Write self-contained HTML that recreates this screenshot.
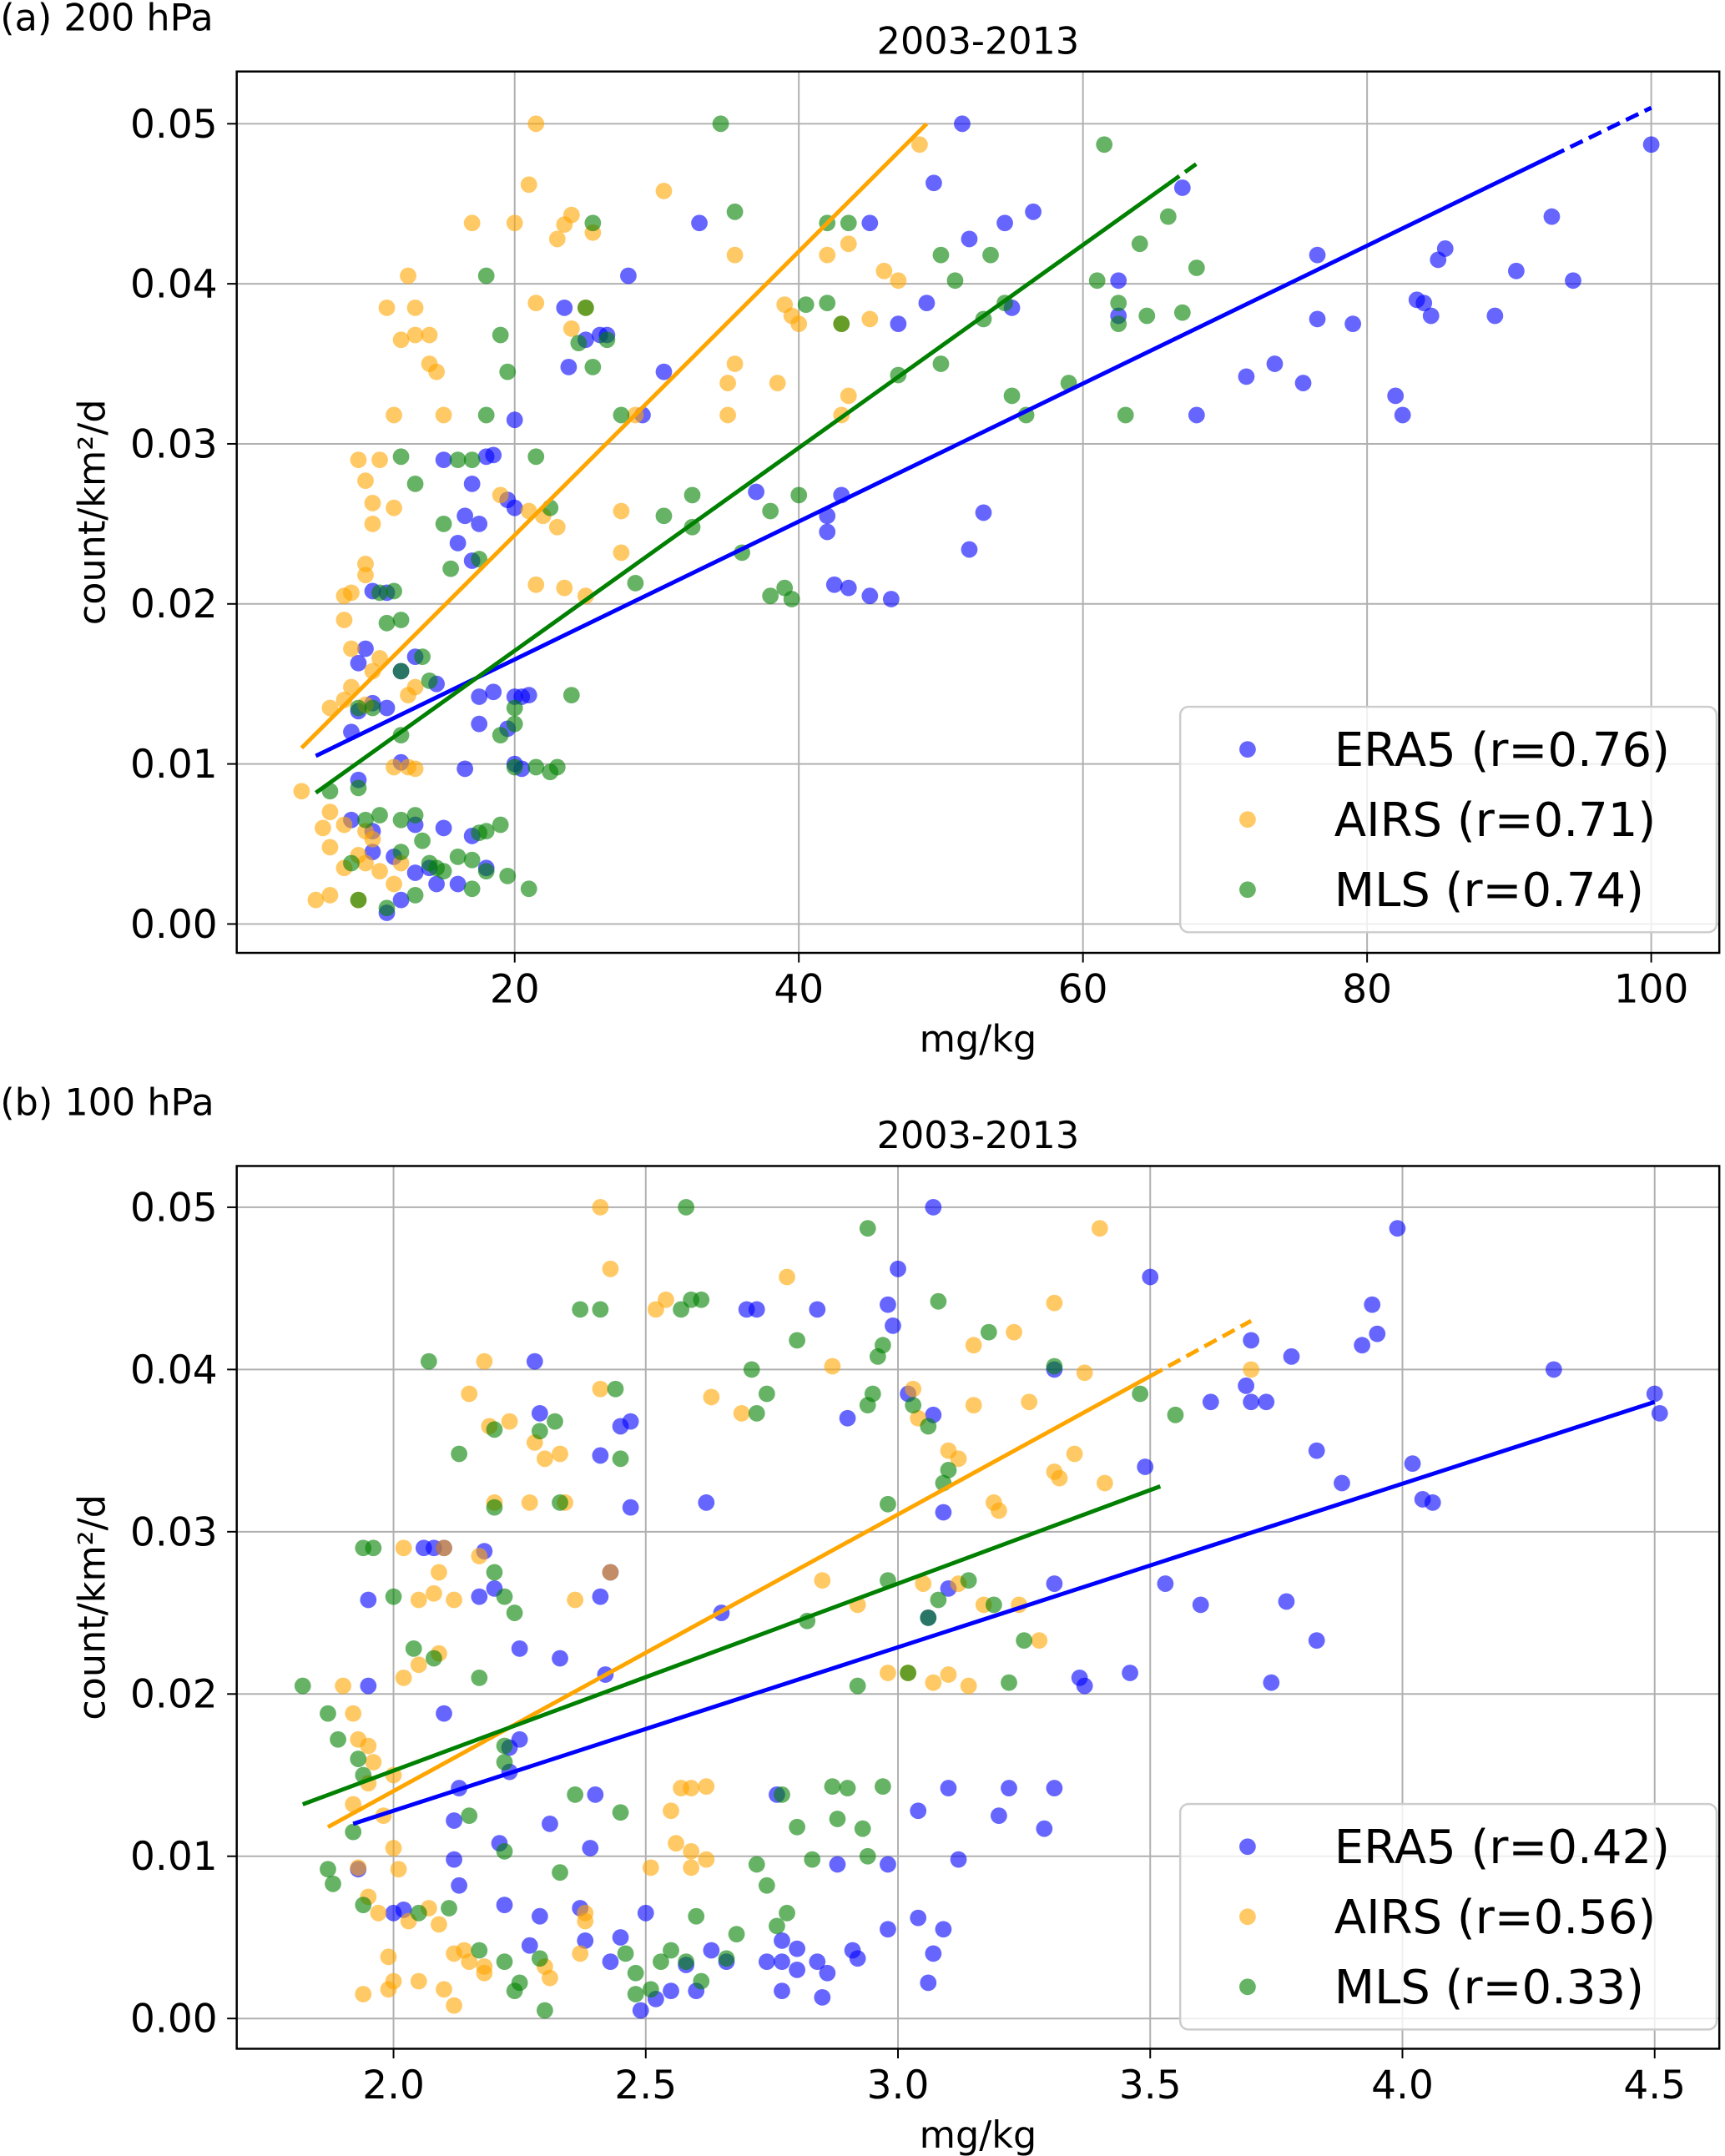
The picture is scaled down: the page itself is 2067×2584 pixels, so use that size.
<!DOCTYPE html>
<html><head><meta charset="utf-8"><style>
html,body{margin:0;padding:0;background:#fff}
svg{display:block;font-family:"DejaVu Sans","Liberation Sans",sans-serif}
</style></head><body>
<svg id="chart" width="2067" height="2584" viewBox="0 0 1254 1568" xmlns="http://www.w3.org/2000/svg"></svg>
<script>
const aXTicks=[20,40,60,80,100];
const bXTicks=[2.0,2.5,3.0,3.5,4.0,4.5];
const yTicks=[0,0.01,0.02,0.03,0.04,0.05];
const seriesNames=["ERA5","AIRS","MLS"];
const aCorr=["0.76","0.71","0.74"];
const bCorr=["0.42","0.56","0.33"];
const colors=["#0000ff","#ffa500","#008000"];
const aEra5=[[51.5,.050],[49.5,.0463],[33,.0438],[52,.0428],[54.5,.0438],[56.5,.0445],[45,.0438],[67,.046],[28,.0405],[23.5,.0385],[25,.0365],[26,.0368],[26.5,.0368],[23.8,.0348],[30.5,.0345],[29,.0318],[20,.0315],[47,.0375],[49,.0388],[55,.0385],[62.5,.0402],[62.5,.038],[76.5,.0418],[76.5,.0378],[79,.0375],[71.5,.0342],[73.5,.035],[75.5,.0338],[68,.0318],[82,.033],[82.5,.0318],[83.5,.039],[84,.0388],[84.5,.038],[85,.0415],[85.5,.0422],[89,.038],[90.5,.0408],[93,.0442],[94.5,.0402],[100,.0487],[37,.027],[43,.0268],[42,.0255],[42,.0245],[53,.0257],[52,.0234],[42.5,.0212],[43.5,.021],[45,.0205],[46.5,.0203],[15,.029],[17,.0275],[18,.0292],[18.5,.0293],[19.5,.0265],[20,.026],[17.5,.025],[16.5,.0255],[16,.0238],[17,.0227],[10,.0208],[11,.0207],[9.5,.0172],[9,.0163],[13,.0167],[12,.0158],[14.5,.015],[18.5,.0145],[17.5,.0142],[20,.0142],[20.5,.0142],[21,.0143],[17.5,.0125],[19.5,.0122],[9,.0133],[11,.0135],[10,.0138],[8.5,.012],[12,.0101],[20,.01],[20.5,.0097],[16.5,.0097],[9,.009],[8.5,.0065],[10,.0058],[11.5,.0042],[13,.0062],[14,.0035],[14.5,.0025],[12,.0015],[11,.0007],[13,.0032],[16,.0025],[18,.0035],[15,.006],[17,.0055],[10,.0045]];
const aAirs=[[21.5,.050],[48.5,.0487],[21,.0462],[30.5,.0458],[17,.0438],[20,.0438],[23.5,.0437],[24,.0443],[25.5,.0432],[23,.0428],[35.5,.0418],[42,.0418],[43.5,.0425],[46,.0408],[47,.0402],[21.5,.0388],[25,.0385],[39,.0387],[39.5,.038],[40,.0375],[43,.0375],[45,.0378],[11,.0385],[13,.0385],[12.5,.0405],[13,.0368],[14,.0368],[12,.0365],[14,.035],[14.5,.0345],[24,.0372],[35.5,.035],[35,.0338],[38.5,.0338],[43.5,.033],[43,.0318],[35,.0318],[28.5,.0318],[11.5,.0318],[15,.0318],[9,.029],[10.5,.029],[9.5,.0277],[10,.0263],[11.5,.026],[10,.025],[22,.0255],[21,.0258],[23,.0248],[27.5,.0258],[27.5,.0232],[19,.0268],[9.5,.0225],[9.5,.0218],[8,.0205],[8.5,.0207],[21.5,.0212],[23.5,.021],[25,.0205],[8,.019],[8.5,.0172],[10.5,.0166],[10,.0158],[8.5,.0148],[9.5,.0137],[8,.014],[7,.0135],[12.5,.0143],[13,.0148],[11.5,.0098],[12.5,.0098],[13,.0097],[5,.0083],[7,.007],[8,.0062],[9.5,.0058],[10,.0053],[7,.0048],[9,.0043],[9.5,.0038],[8,.0035],[6,.0015],[7,.0018],[9,.0015],[11.5,.0025],[10.5,.0033],[12,.0038],[6.5,.006]];
const aMls=[[34.5,.050],[61.5,.0487],[35.5,.0445],[42,.0438],[43.5,.0438],[66,.0442],[64,.0425],[50,.0418],[53.5,.0418],[25.5,.0438],[18,.0405],[19,.0368],[19.5,.0345],[25,.0385],[24.5,.0363],[25.5,.0348],[26.5,.0365],[27.5,.0318],[18,.0318],[40.5,.0387],[42,.0388],[43,.0375],[51,.0402],[54.5,.0388],[53,.0378],[61,.0402],[62.5,.0388],[62.5,.0375],[64.5,.038],[67,.0382],[68,.041],[50,.035],[47,.0343],[55,.033],[56,.0318],[59,.0338],[63,.0318],[16,.029],[17,.029],[21.5,.0292],[12,.0292],[13,.0275],[15,.025],[22.5,.026],[30.5,.0255],[32.5,.0268],[32.5,.0248],[28.5,.0213],[36,.0232],[38,.0258],[40,.0268],[39,.021],[38,.0205],[39.5,.0203],[17.5,.0228],[15.5,.0222],[10.5,.0207],[11.5,.0208],[11,.0188],[12,.019],[13.5,.0167],[12,.0158],[14,.0152],[20,.0135],[20,.0125],[24,.0143],[9,.0135],[10,.0135],[19,.0118],[12,.0118],[7,.0083],[9,.0085],[20,.0098],[21.5,.0098],[22.5,.0095],[23,.0098],[9.5,.0065],[10.5,.0068],[12,.0065],[13,.0068],[17.5,.0057],[18,.0058],[19,.0062],[13.5,.0052],[12,.0045],[14,.0038],[14.5,.0035],[15,.0033],[16,.0042],[17,.004],[18,.0033],[19.5,.003],[21,.0022],[17,.0022],[13,.0018],[11,.001],[9,.0015],[8.5,.0038]];
const bEra5=[[3.07,.050],[2.28,.0405],[2.98,.044],[3.0,.0462],[2.99,.0427],[2.7,.0437],[2.72,.0437],[2.84,.0437],[2.9,.037],[3.02,.0385],[3.07,.0372],[2.45,.0365],[2.47,.0368],[2.29,.0373],[3.31,.040],[3.5,.0457],[3.7,.0418],[3.69,.039],[3.7,.038],[3.73,.038],[3.62,.038],[3.78,.0408],[3.92,.0415],[3.94,.044],[3.95,.0422],[3.99,.0487],[4.3,.040],[4.5,.0385],[4.51,.0373],[4.02,.0342],[4.04,.032],[4.06,.0318],[3.88,.033],[3.83,.035],[3.49,.034],[3.09,.0312],[2.41,.0347],[2.47,.0315],[2.62,.0318],[2.43,.0275],[2.41,.026],[2.65,.025],[3.31,.0268],[3.1,.0265],[3.06,.0247],[3.53,.0268],[3.6,.0255],[3.77,.0257],[3.83,.0233],[3.74,.0207],[3.36,.021],[3.37,.0205],[3.46,.0213],[2.06,.029],[2.08,.029],[2.1,.029],[2.18,.0288],[2.2,.0265],[2.1,.0188],[1.95,.0258],[1.95,.0205],[2.17,.026],[2.25,.0228],[2.33,.0222],[2.25,.0172],[2.23,.0167],[2.23,.0152],[2.13,.0142],[2.31,.012],[2.39,.0105],[2.4,.0138],[2.42,.0212],[2.12,.0122],[2.21,.0108],[1.93,.0092],[2.12,.0098],[2.13,.0082],[2.76,.0138],[3.1,.0142],[3.22,.0142],[3.31,.0142],[3.29,.0117],[3.04,.0128],[3.2,.0125],[3.12,.0098],[2.88,.0095],[2.98,.0095],[2.98,.0055],[3.04,.0062],[3.09,.0055],[3.07,.004],[3.06,.0022],[2.91,.0042],[2.92,.0037],[2.8,.0043],[2.84,.0035],[2.8,.003],[2.86,.0028],[2.77,.0035],[2.74,.0035],[2.77,.0017],[2.85,.0013],[2.66,.0035],[2.63,.0042],[2.58,.0033],[2.6,.0017],[2.52,.0012],[2.55,.0017],[2.5,.0065],[2.45,.005],[2.43,.0035],[2.38,.0048],[2.37,.0068],[2.29,.0063],[2.27,.0045],[2.22,.007],[2.02,.0067],[2.0,.0065],[2.49,.0005],[2.77,.0048]];
const bAirs=[[2.41,.050],[2.43,.0462],[2.52,.0437],[2.54,.0443],[2.78,.0457],[3.4,.0487],[3.31,.0441],[2.87,.0402],[3.03,.0388],[3.23,.0423],[3.15,.0415],[3.37,.0398],[3.7,.040],[3.26,.038],[3.15,.0378],[3.04,.037],[2.69,.0373],[2.63,.0383],[2.41,.0388],[2.18,.0405],[2.15,.0385],[2.19,.0365],[2.23,.0368],[2.28,.0355],[2.3,.0345],[2.33,.0348],[2.34,.0318],[2.2,.0318],[2.27,.0318],[2.43,.0275],[2.36,.0258],[2.17,.0285],[2.1,.029],[2.02,.029],[2.05,.0258],[2.12,.0258],[2.09,.0275],[2.08,.0262],[2.05,.0218],[2.09,.0225],[2.02,.021],[1.9,.0205],[1.92,.0188],[1.93,.0172],[1.95,.0168],[1.96,.0158],[1.95,.0145],[1.98,.0125],[2.0,.0105],[2.01,.0092],[1.93,.0093],[2.0,.015],[1.92,.0132],[1.95,.0075],[1.97,.0065],[2.07,.0068],[2.03,.006],[2.09,.0058],[1.99,.0038],[2.0,.0023],[2.05,.0023],[1.94,.0015],[1.99,.0018],[2.1,.0018],[2.12,.0008],[2.14,.0042],[2.12,.004],[2.18,.0028],[2.15,.0035],[2.18,.0032],[2.3,.0032],[2.31,.0025],[2.38,.0065],[2.38,.006],[2.37,.004],[2.55,.0128],[2.57,.0142],[2.59,.0142],[2.62,.0143],[2.51,.0093],[2.59,.0103],[2.62,.0098],[2.59,.0093],[2.56,.0108],[2.85,.027],[2.92,.0255],[2.98,.0213],[3.02,.0213],[3.07,.0207],[3.1,.0212],[3.14,.0205],[3.05,.0268],[3.17,.0255],[3.12,.0268],[3.19,.0318],[3.2,.0313],[3.24,.0255],[3.28,.0233],[3.35,.0348],[3.32,.0333],[3.41,.033],[3.31,.0337],[3.12,.0345],[3.1,.035]];
const bMls=[[2.58,.050],[2.94,.0487],[2.61,.0443],[2.57,.0437],[2.41,.0437],[2.37,.0437],[2.59,.0443],[2.71,.040],[2.74,.0385],[2.72,.0373],[2.8,.0418],[2.97,.0415],[2.96,.0408],[2.95,.0385],[2.94,.0378],[3.03,.0378],[3.08,.0442],[3.18,.0423],[3.06,.0365],[3.1,.0338],[3.09,.033],[3.31,.0402],[3.55,.0372],[3.48,.0385],[2.45,.0345],[2.44,.0388],[2.32,.0368],[2.29,.0362],[2.33,.0318],[2.07,.0405],[2.13,.0348],[2.2,.0363],[2.2,.0315],[2.2,.0275],[2.22,.026],[2.24,.025],[1.96,.029],[1.94,.029],[2.0,.026],[2.04,.0228],[2.08,.0222],[2.17,.021],[1.82,.0205],[1.87,.0188],[1.89,.0172],[1.93,.016],[1.92,.0115],[1.87,.0092],[1.88,.0083],[1.94,.015],[2.22,.0168],[2.22,.0158],[2.15,.0125],[2.22,.0103],[2.36,.0138],[2.45,.0127],[2.33,.009],[2.05,.0065],[2.11,.0068],[1.94,.007],[2.17,.0042],[2.22,.0035],[2.25,.0022],[2.24,.0017],[2.29,.0037],[2.3,.0005],[2.46,.004],[2.51,.0018],[2.48,.0015],[2.48,.0028],[2.53,.0035],[2.55,.0042],[2.58,.0035],[2.61,.0023],[2.6,.0063],[2.66,.0037],[2.68,.0052],[2.72,.0095],[2.74,.0082],[2.76,.0057],[2.78,.0065],[2.77,.0138],[2.8,.0118],[2.87,.0143],[2.83,.0098],[2.88,.0123],[2.9,.0142],[2.93,.0117],[2.94,.01],[2.97,.0143],[2.92,.0205],[2.82,.0245],[2.98,.027],[3.06,.0247],[3.02,.0213],[3.08,.0258],[3.19,.0255],[3.14,.027],[3.25,.0233],[3.22,.0207],[2.98,.0317]];
// fit lines: [x0,y0,x1,y1,dashFromX]
const aFits=[[6,.0105,100,.051,93],[5,.011,49,.050,null],[6,.0082,68,.0475,66]];
const bFits=[[1.92,.012,4.5,.038,null],[1.87,.0118,3.7,.043,3.5],[1.82,.0132,3.52,.0328,null]];

const NS="http://www.w3.org/2000/svg";
const svg=document.getElementById('chart');
function mk(tag,attrs,parent){const e=document.createElementNS(NS,tag);for(const k in attrs)e.setAttribute(k,attrs[k]);(parent||svg).appendChild(e);return e;}

function panel(cfg){
  const g=mk('g',{});
  
  
  const {L,R,T,B}=cfg;
  const sx=v=>cfg.x0px+(v-cfg.x0v)*cfg.xs;
  const sy=v=>cfg.y0px-v*cfg.ys;
  cfg.xt.forEach(t=>{const l=mk('line',{x1:sx(t),x2:sx(t),y1:T,y2:B,stroke:'#b0b0b0','stroke-width':1.2},g);
    });
  yTicks.forEach(t=>{const l=mk('line',{x1:L,x2:R,y1:sy(t),y2:sy(t),stroke:'#b0b0b0','stroke-width':1.2},g);
    });
  cfg.series.forEach((data,si)=>{
    const sg=mk('g',{},g);
    
    
    data.forEach(p=>{const c=mk('circle',{cx:sx(p[0]),cy:sy(p[1]),r:6,fill:colors[si],'fill-opacity':0.6},sg);
      });
  });
  cfg.fits.forEach((f,si)=>{
    const slope=(f[3]-f[1])/(f[2]-f[0]);
    const xd=f[4]===null?f[2]:f[4];
    const l=mk('line',{x1:sx(f[0]),y1:sy(f[1]),x2:sx(xd),y2:sy(f[1]+slope*(xd-f[0])),stroke:colors[si],'stroke-width':3},g);
    
    if(f[4]!==null){const d=mk('line',{x1:sx(xd),y1:sy(f[1]+slope*(xd-f[0])),x2:sx(f[2]),y2:sy(f[3]),stroke:colors[si],'stroke-width':3,'stroke-dasharray':'10,5'},g);
      }
  });
  const fr=mk('rect',{x:L,y:T,width:R-L,height:B-T,fill:'none',stroke:'#000','stroke-width':1.5},g);
  
  cfg.xt.forEach(t=>{mk('line',{x1:sx(t),x2:sx(t),y1:B,y2:B+7,stroke:'#000','stroke-width':1.2},g);
    const tx=mk('text',{x:sx(t),y:B+36,'font-size':28.5,'text-anchor':'middle'},g);tx.textContent=cfg.xfmt(t);
    });
  yTicks.forEach(t=>{mk('line',{x1:L-7,x2:L,y1:sy(t),y2:sy(t),stroke:'#000','stroke-width':1.2},g);
    const tx=mk('text',{x:L-14,y:sy(t)+10,'font-size':28.5,'text-anchor':'end'},g);tx.textContent=t.toFixed(2);
    });
  const xl=mk('text',{x:(L+R)/2,y:B+72,'font-size':27,'text-anchor':'middle'},g);xl.textContent='mg/kg';
  
  const yl=mk('text',{x:0,y:0,'font-size':27,'text-anchor':'middle',transform:`translate(76,${(T+B)/2}) rotate(-90)`},g);yl.textContent='count/km²/d';
  
  const ti=mk('text',{x:(L+R)/2,y:T-13,'font-size':27,'text-anchor':'middle'},g);ti.textContent='2003-2013';
  
  const pl=mk('text',{x:0,y:cfg.labelY,'font-size':27},g);pl.textContent=cfg.label;
  
  const lg=mk('g',{},g);
  mk('rect',{x:858,y:cfg.legY,width:390,height:164,rx:6,fill:'#fff','fill-opacity':0.8,stroke:'#ccc','stroke-width':1.5},lg);
  seriesNames.forEach((n,i)=>{const cy=cfg.legY+31+i*51;
    const m=mk('circle',{cx:907,cy:cy,r:6,fill:colors[i],'fill-opacity':0.6},lg);
    
    const t=mk('text',{x:970,y:cy+12,'font-size':34},lg);t.textContent=`${n} (r=${cfg.corr[i]})`;
    });
}
panel({name:'panel-a-200hpa',L:172,R:1250,T:52,B:693,x0px:167.5,x0v:0,xs:10.33,y0px:672,ys:11640,xt:aXTicks,xfmt:t=>String(t),
  series:[aEra5,aAirs,aMls],fits:aFits,label:'(a) 200 hPa',labelY:22,legY:514,corr:aCorr});
panel({name:'panel-b-100hpa',L:172,R:1250,T:848,B:1490,x0px:286,x0v:2.0,xs:366.8,y0px:1468,ys:11800,xt:bXTicks,xfmt:t=>t.toFixed(1),
  series:[bEra5,bAirs,bMls],fits:bFits,label:'(b) 100 hPa',labelY:811,legY:1312,corr:bCorr});
</script>
</body></html>
